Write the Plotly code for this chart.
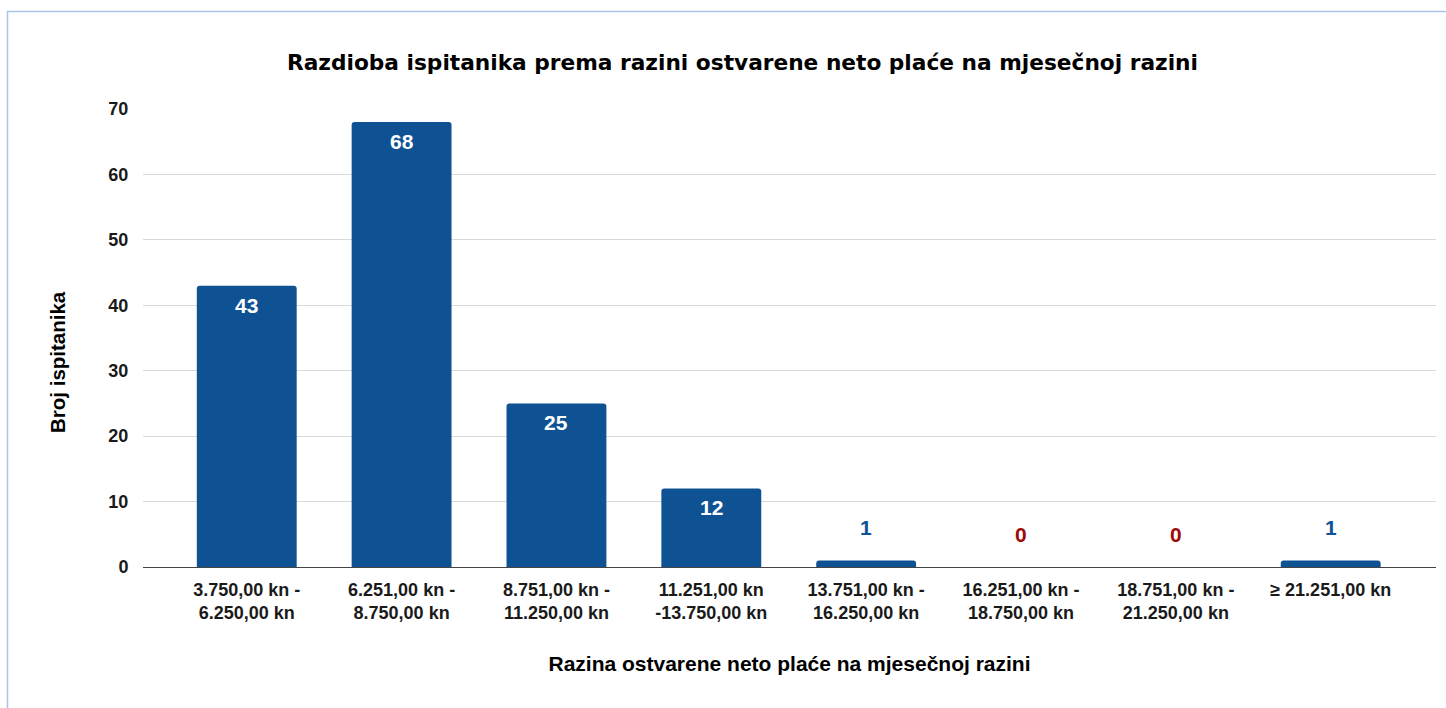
import plotly.graph_objects as go

categories = [
    "3.750,00 kn -<br>6.250,00 kn",
    "6.251,00 kn -<br>8.750,00 kn",
    "8.751,00 kn -<br>11.250,00 kn",
    "11.251,00 kn<br>-13.750,00 kn",
    "13.751,00 kn -<br>16.250,00 kn",
    "16.251,00 kn -<br>18.750,00 kn",
    "18.751,00 kn -<br>21.250,00 kn",
    "≥ 21.251,00 kn",
]
values = [43, 68, 25, 12, 1, 0, 0, 1]
y_ticks = [0, 10, 20, 30, 40, 50, 60, 70]

title_text = "Razdioba ispitanika prema razini ostvarene neto plaće na mjesečnoj razini"
x_title = "Razina ostvarene neto plaće na mjesečnoj razini"
y_title = "Broj ispitanika"

BAR = "#0F5294"
RED = "#9C0A0A"
FONT = "Liberation Sans, Arial, sans-serif"
TFONT = "DejaVu Sans, Liberation Sans, sans-serif"

fig = go.Figure()
fig.add_trace(go.Bar(
    x=list(range(len(categories))),
    y=values,
    marker=dict(color=BAR, line=dict(width=0), cornerradius=3),
    width=0.645,
    hoverinfo="skip",
))

W, H = 1446, 708
L, R, T, B = 143, 10, 109, 141
pw, ph = W - L - R, H - T - B

def px_x(p):
    return (p - L) / pw

def px_y(p):
    return (H - B - p) / ph

annotations = []
for i, v in enumerate(values):
    if v >= 5:
        annotations.append(dict(
            x=i, y=v, xref="x", yref="y", text=f"<b>{v}</b>", showarrow=False,
            yanchor="top", yshift=-6,
            font=dict(family=FONT, size=21, color="white"),
        ))
    else:
        annotations.append(dict(
            x=i, y=v, xref="x", yref="y", text=f"<b>{v}</b>", showarrow=False,
            yanchor="middle", yshift=33,
            font=dict(family=FONT, size=21, color=BAR if v > 0 else RED),
        ))

# y-axis title (placed as annotation to match reference offset)
annotations.append(dict(
    x=px_x(57), y=px_y(362), xref="paper", yref="paper",
    text=f"<b>{y_title}</b>", textangle=-90, showarrow=False,
    xanchor="center", yanchor="middle",
    font=dict(family=FONT, size=20.5, color="#000"),
))

border = "#A9C4E8"
shapes = [
    dict(type="line", xref="paper", yref="paper",
         x0=px_x(7.5), x1=px_x(7.5), y0=px_y(11), y1=px_y(720),
         line=dict(color=border, width=1.5)),
    dict(type="line", xref="paper", yref="paper",
         x0=px_x(7), x1=px_x(1460), y0=px_y(11.5), y1=px_y(11.5),
         line=dict(color=border, width=1.5)),
]

fig.update_layout(
    width=W, height=H,
    margin=dict(l=L, r=R, t=T, b=B),
    paper_bgcolor="white", plot_bgcolor="white",
    showlegend=False,
    title=dict(text=f"<b>{title_text}</b>", x=(287 + 1198) / 2 / W, xanchor="center",
               y=1 - 62 / H, yanchor="middle",
               font=dict(family=TFONT, size=21.7, color="#000")),
    font=dict(family=FONT, color="#000"),
    annotations=annotations,
    shapes=shapes,
)

fig.update_xaxes(
    tickmode="array", tickvals=list(range(len(categories))), ticktext=[f"<b>{c}</b>" for c in categories],
    range=[-0.67, 7.68],
    tickfont=dict(family=FONT, size=18, color="#1a1a1a"),
    ticks="outside", ticklen=6, tickcolor="rgba(0,0,0,0)",
    showgrid=False, showline=False, zeroline=False,
    title=dict(text=f"<b>{x_title}</b>", font=dict(family=FONT, size=21, color="#000"), standoff=34),
)
fig.update_yaxes(
    range=[0, 70], tickvals=y_ticks,
    ticktext=[f"<b>{t}</b>" for t in y_ticks],
    tickfont=dict(family=FONT, size=18, color="#1a1a1a"),
    ticks="outside", ticklen=10, tickcolor="rgba(0,0,0,0)",
    showgrid=True, gridcolor="#D9D9D9", gridwidth=1.3,
    zeroline=True, zerolinecolor="#444", zerolinewidth=1.3,
    showline=False,
)

fig.write_html("out.html", config={"displayModeBar": False},
               post_script="document.body.style.margin='0px';")
